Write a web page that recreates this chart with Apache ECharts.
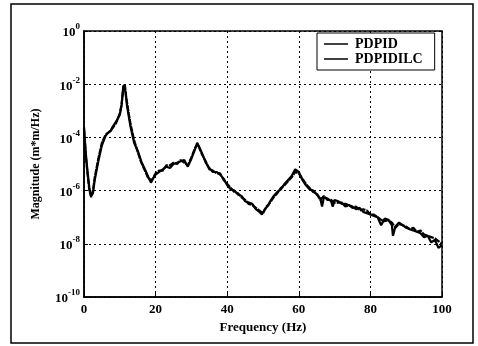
<!DOCTYPE html>
<html><head><meta charset="utf-8">
<script src="https://cdn.jsdelivr.net/npm/echarts@6/dist/echarts.min.js"></script>
<style>html,body{margin:0;padding:0;background:#fff}#c{width:478px;height:346px}</style>
</head><body><div id="c"></div>
<script>
// Frequency (Hz) and log10 magnitude
const freqA = [0,0.5,1,1.5,2,2.5,3,4,5,6,6.5,7,7.5,8,9,10,10.5,11,11.3,11.6,12,13,14,15,16,17,18,18.7,19.5,20,21,22,23,24,25,26,27,28,29,29.5,30,31,31.6,32.3,33,34,35,36,37,38,39,40,41,42,43,44,45,46,47,48,49,49.7,50.5,51.5,52,53,54,55,56,57,58,59,60,61,62,63,64,65,66,66.5,67,68,69,69.5,70,71,72,73,74,75,76,77,78,79,80,81,82,83,84,85,86,86.3,87,88,89,90,91,92,93,94,95,96,97,98,99,100];
const logA = [-3.6,-4.6,-5.3,-5.9,-6.2,-6.1,-5.6,-4.9,-4.3,-3.95,-3.85,-3.9,-3.75,-3.6,-3.4,-3.15,-2.8,-2.05,-2.0,-2.3,-2.8,-3.6,-4.2,-4.5,-4.9,-5.2,-5.5,-5.7,-5.5,-5.4,-5.3,-5.2,-5.1,-5.15,-5.0,-4.95,-4.9,-4.85,-5.1,-5.15,-4.8,-4.45,-4.2,-4.4,-4.6,-4.95,-5.15,-5.3,-5.3,-5.4,-5.55,-5.8,-5.95,-6.0,-6.15,-6.2,-6.4,-6.45,-6.5,-6.7,-6.8,-6.9,-6.7,-6.55,-6.4,-6.2,-6.05,-5.95,-5.75,-5.6,-5.45,-5.2,-5.3,-5.6,-5.8,-5.95,-6.0,-6.15,-6.3,-6.6,-6.25,-6.3,-6.4,-6.6,-6.35,-6.4,-6.5,-6.5,-6.55,-6.6,-6.7,-6.65,-6.8,-6.85,-6.9,-6.95,-7.0,-7.3,-7.05,-7.1,-7.3,-7.7,-7.35,-7.2,-7.3,-7.4,-7.45,-7.5,-7.55,-7.6,-7.75,-7.7,-7.95,-7.85,-8.15,-8.05];
const freqB = [0,0.5,1,1.5,2,2.5,3,4,5,6,7,8,9,10,10.5,11,11.4,11.8,12.5,13,14,15,16,17,18,19,20,21,22,23,24,25,26,27,28,29,30,31,31.8,32.5,33,34,35,36,37,38,39,40,41,42,43,44,45,46,47,48,49,50,51,52,53,54,55,56,57,58,59,59.5,60,61,62,63,64,65,66,67,68,69,70,71,72,73,74,75,76,77,78,79,80,81,82,83,84,85,86,87,88,89,90,91,92,93,94,95,96,97,98,99,100];
const logB = [-3.7,-4.7,-5.4,-6.0,-6.25,-6.0,-5.5,-4.8,-4.2,-3.9,-3.8,-3.65,-3.45,-3.1,-2.75,-2.1,-2.0,-2.5,-3.1,-3.5,-4.1,-4.55,-4.95,-5.25,-5.55,-5.6,-5.35,-5.25,-5.25,-5.05,-5.05,-4.95,-5.0,-4.85,-4.95,-5.05,-4.75,-4.4,-4.25,-4.5,-4.65,-4.9,-5.2,-5.25,-5.35,-5.35,-5.6,-5.75,-5.9,-6.05,-6.1,-6.25,-6.35,-6.5,-6.55,-6.65,-6.75,-6.85,-6.6,-6.45,-6.25,-6.1,-5.9,-5.8,-5.65,-5.5,-5.3,-5.25,-5.35,-5.55,-5.75,-5.9,-6.05,-6.1,-6.35,-6.2,-6.35,-6.35,-6.45,-6.45,-6.45,-6.6,-6.55,-6.65,-6.6,-6.75,-6.7,-6.75,-6.9,-6.9,-7.0,-7.1,-7.15,-7.1,-7.2,-7.4,-7.25,-7.3,-7.35,-7.45,-7.4,-7.55,-7.5,-7.65,-7.7,-7.75,-7.8,-7.9,-8.0,-8.1];
const seriesNames = ['PDPID','PDPIDILC'];
const xTicks = {min:0, max:100, step:20};
const yExpRange = {min:-10, max:0, step:2};

const FONT = '"Liberation Serif", "DejaVu Serif", serif';
const toPts = (xs, ls) => xs.map((x,i)=>[x, Math.pow(10, ls[i])]);

const chart = echarts.init(document.getElementById('c'), null, {renderer:'canvas'});
chart.setOption({
  animation:false,
  backgroundColor:'#fff',
  graphic:[{type:'rect', shape:{x:11,y:4,width:462,height:339}, style:{fill:'none', stroke:'#000', lineWidth:1.5}, z:-1}],
  grid:{left:84, top:31, width:358, height:266, show:true, borderColor:'#000', borderWidth:1.5, backgroundColor:'#fff'},
  legend:{
    data:seriesNames, orient:'vertical', left:317, top:33, itemWidth:24, itemHeight:1.5, itemGap:1, icon:'rect',
    backgroundColor:'#fff', borderColor:'#000', borderWidth:1, borderRadius:0, padding:[4,12,4,7],
    textStyle:{fontFamily:FONT, fontWeight:'bold', fontSize:14, color:'#000', padding:[0,0,0,2]}
  },
  xAxis:{
    type:'value', min:xTicks.min, max:xTicks.max, interval:xTicks.step,
    name:'Frequency (Hz)', nameLocation:'middle', nameGap:21,
    nameTextStyle:{fontFamily:FONT, fontWeight:'bold', fontSize:13, color:'#000'},
    axisLine:{lineStyle:{color:'#000', width:1.5}},
    axisTick:{inside:true, length:4, lineStyle:{color:'#000'}},
    axisLabel:{fontFamily:FONT, fontWeight:'bold', fontSize:13, color:'#000', margin:6},
    splitLine:{show:true, lineStyle:{color:'#000', type:[2,3], width:1}}
  },
  yAxis:{
    type:'log', logBase:10, min:Math.pow(10,yExpRange.min), max:Math.pow(10,yExpRange.max), interval:yExpRange.step,
    name:'Magnitude (m*m/Hz)', nameLocation:'middle', nameGap:42,
    nameTextStyle:{fontFamily:FONT, fontWeight:'bold', fontSize:12, color:'#000'},
    axisLine:{lineStyle:{color:'#000', width:1.5}},
    axisTick:{inside:true, length:4, lineStyle:{color:'#000'}},
    minorTick:{show:false},
    axisLabel:{
      margin:4,
      formatter:v=>{const e=Math.round(Math.log10(v)); return '{b|10}{s|'+e+'}';},
      rich:{
        b:{fontFamily:FONT, fontWeight:'bold', fontSize:13, color:'#000', lineHeight:17, verticalAlign:'bottom'},
        s:{fontFamily:FONT, fontWeight:'bold', fontSize:9, color:'#000', lineHeight:17, verticalAlign:'top'}
      }
    },
    splitLine:{show:true, lineStyle:{color:'#000', type:[2,3], width:1}}
  },
  series:[
    {name:seriesNames[0], type:'line', symbol:'none', data:toPts(freqA, logA), lineStyle:{color:'#000', width:2.2}, itemStyle:{color:'#000'}},
    {name:seriesNames[1], type:'line', symbol:'none', data:toPts(freqB, logB), lineStyle:{color:'#000', width:2.2, type:[6,1]}, itemStyle:{color:'#000'}}
  ]
});
</script></body></html>
